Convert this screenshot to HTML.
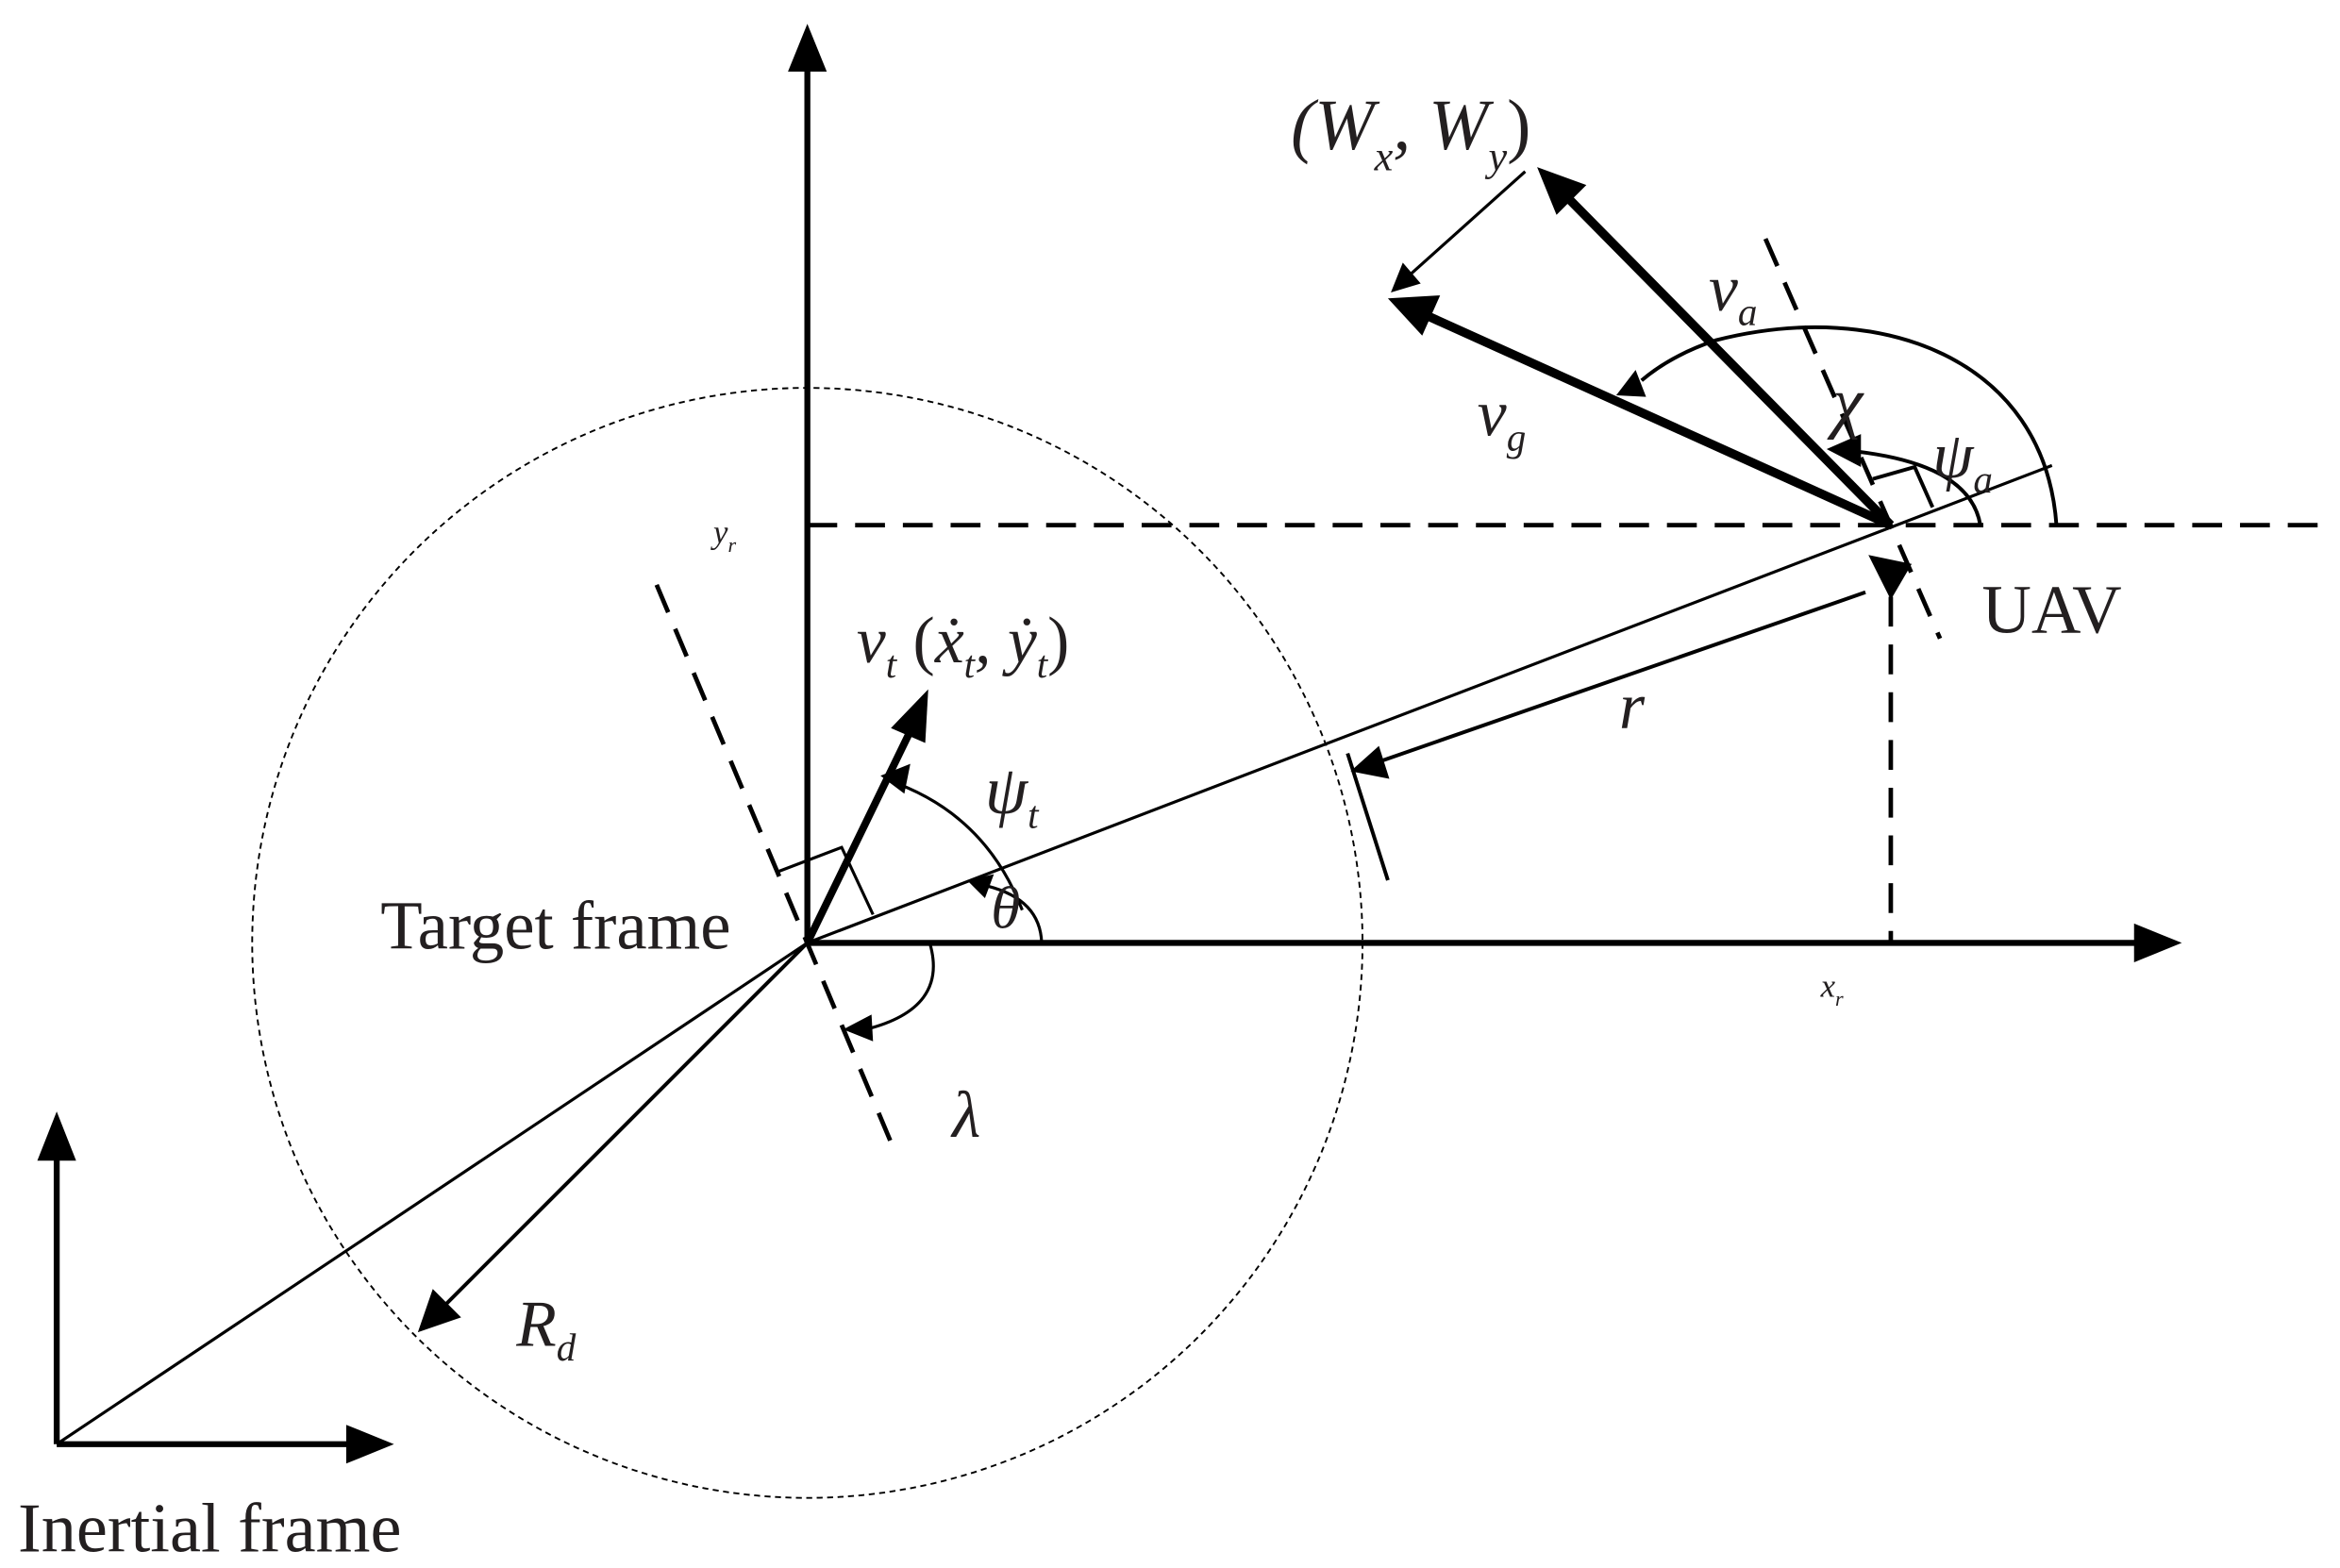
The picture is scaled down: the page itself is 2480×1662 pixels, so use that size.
<!DOCTYPE html>
<html><head><meta charset="utf-8"><style>
html,body{margin:0;padding:0;background:#fff;}
svg{display:block;}
text{font-family:"Liberation Serif",serif;fill:#231f20;}
.i{font-style:italic;}
</style></head><body>
<svg width="2480" height="1662" viewBox="0 0 1568 1051" preserveAspectRatio="none" xmlns="http://www.w3.org/2000/svg">
<g stroke="#000" fill="none">
<circle cx="541" cy="632" r="372" stroke-width="1.2" stroke-dasharray="4,3"/>
<line x1="541" y1="632" x2="541" y2="45" stroke-width="4"/>
<path d="M528,48 L541,16 L554,48 z" fill="#000" stroke="none"/>
<line x1="541" y1="632" x2="1435" y2="632" stroke-width="4"/>
<path d="M1430,619 L1462,632 L1430,645 z" fill="#000" stroke="none"/>
<line x1="541" y1="352" x2="1560" y2="352" stroke-width="3" stroke-dasharray="20,12"/>
<line x1="1267" y1="400" x2="1267" y2="632" stroke-width="3" stroke-dasharray="20,12"/>
<line x1="440" y1="392" x2="598" y2="768" stroke-width="3" stroke-dasharray="20,12"/>
<line x1="1183" y1="160" x2="1300" y2="428" stroke-width="3" stroke-dasharray="20,12"/>
<line x1="38" y1="968" x2="38" y2="775" stroke-width="4"/>
<path d="M25,778 L38,745 L51,778 z" fill="#000" stroke="none"/>
<line x1="38" y1="968" x2="235" y2="968" stroke-width="4"/>
<path d="M232,955 L264,968 L232,981 z" fill="#000" stroke="none"/>
<line x1="38" y1="968" x2="541" y2="632" stroke-width="2"/>
<line x1="541" y1="632" x2="1375" y2="312" stroke-width="2"/>
<line x1="541" y1="632" x2="292" y2="881" stroke-width="2.5"/>
<path d="M280,893 L290,864 L309,883 z" fill="#000" stroke="none"/>
<line x1="903" y1="505" x2="930" y2="590" stroke-width="2.5"/>
<line x1="920" y1="512" x2="1250" y2="397" stroke-width="2.5"/>
<path d="M905,517 L924,500 L931,522 z" fill="#000" stroke="none"/>
<path d="M1252,372 L1281,378 L1267,402 z" fill="#000" stroke="none"/>
<line x1="541" y1="632" x2="610" y2="490" stroke-width="5"/>
<path d="M597,488 L622,462 L620,498 z" fill="#000" stroke="none"/>
<path d="M522,584 L564,568 L585,613" stroke-width="2"/>
<path d="M595,523 Q660,545 685,610" stroke-width="2"/>
<path d="M590,520 L610,512 L606,532 z" fill="#000" stroke="none"/>
<path d="M662,594 Q697,603 698,632" stroke-width="2"/>
<path d="M648,590 L666,586 L660,602 z" fill="#000" stroke="none"/>
<path d="M623,632 Q636,676 580,690" stroke-width="2"/>
<path d="M565,690 L584,680 L585,698 z" fill="#000" stroke="none"/>
<line x1="1267" y1="352" x2="1048" y2="130" stroke-width="6"/>
<path d="M1030,112 L1063,124 L1043,144 z" fill="#000" stroke="none"/>
<line x1="1267" y1="352" x2="955" y2="211" stroke-width="6"/>
<path d="M930,200 L965,198 L953,225 z" fill="#000" stroke="none"/>
<line x1="1022" y1="115" x2="945" y2="184" stroke-width="2"/>
<path d="M932,196 L940,176 L952,190 z" fill="#000" stroke="none"/>
<path d="M1378,352 C1370,240 1260,200 1150,228 Q1120,238 1100,255" stroke-width="2.5"/>
<path d="M1083,265 L1096,248 L1103,266 z" fill="#000" stroke="none"/>
<path d="M1327,352 Q1320,310 1238,302" stroke-width="2.5"/>
<path d="M1224,301 L1247,291 L1247,313 z" fill="#000" stroke="none"/>
<path d="M1255,321 L1283,313 L1295,340" stroke-width="2.5"/>
</g>
<text x="865" y="100" font-size="48" class="i">(W<tspan font-size="28" dy="14">x</tspan><tspan dy="-14">, W</tspan><tspan font-size="28" dy="14">y</tspan><tspan dy="-14" font-style="normal">)</tspan></text>
<text x="1145" y="208" font-size="44" class="i">v<tspan font-size="26" dy="10">a</tspan></text>
<text x="990" y="292" font-size="44" class="i">v<tspan font-size="26" dy="10">g</tspan></text>
<text x="1228" y="285" font-size="46" class="i">χ</text>
<text x="1295" y="320" font-size="44" class="i">ψ<tspan font-size="26" dy="10">a</tspan></text>
<text x="1328" y="424" font-size="46">UAV</text>
<text x="478" y="364" font-size="22" class="i">y<tspan font-size="14" dy="6">r</tspan></text>
<text x="1220" y="668" font-size="22" class="i">x<tspan font-size="14" dy="6">r</tspan></text>
<text x="574" y="444" font-size="44" class="i">v<tspan font-size="26" dy="10">t</tspan><tspan dy="-10" font-style="normal"> (</tspan>ẋ<tspan font-size="26" dy="10">t</tspan><tspan dy="-10">, ẏ</tspan><tspan font-size="26" dy="10">t</tspan><tspan dy="-10" font-style="normal">)</tspan></text>
<text x="660" y="545" font-size="46" class="i">ψ<tspan font-size="26" dy="10">t</tspan></text>
<text x="664" y="622" font-size="40" class="i">θ</text>
<text x="1085" y="488" font-size="44" class="i">r</text>
<text x="255" y="636" font-size="46">Target frame</text>
<text x="638" y="762" font-size="44" class="i">λ</text>
<text x="346" y="902" font-size="44" class="i">R<tspan font-size="26" dy="10">d</tspan></text>
<text x="12" y="1040" font-size="47">Inertial frame</text>
</svg>
</body></html>
